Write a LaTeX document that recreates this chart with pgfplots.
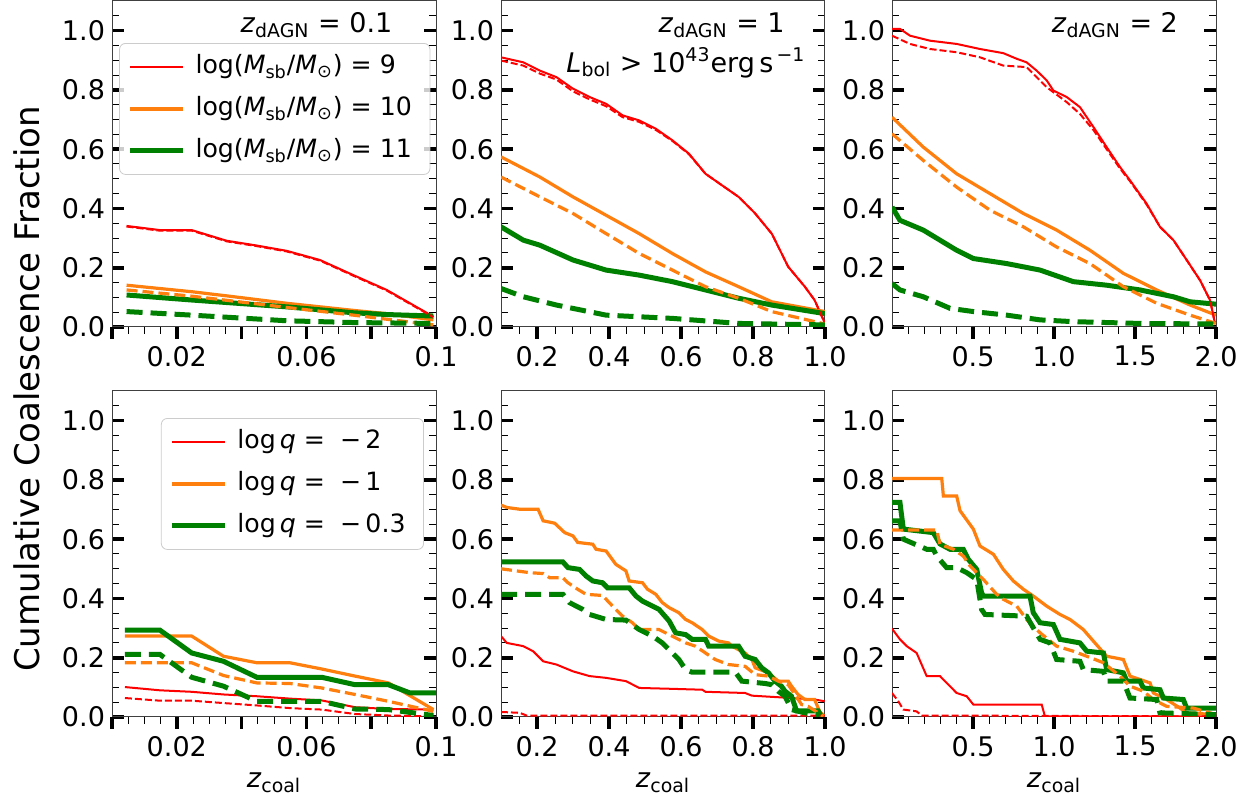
\documentclass[border=0pt]{standalone}
\usepackage{fontspec}
\setmainfont{DejaVu Sans}
\usepackage{pgfplots}
\pgfplotsset{compat=1.18}
\definecolor{mred}{HTML}{FF0000}
\definecolor{morange}{HTML}{FF7F0E}
\definecolor{mgreen}{HTML}{008000}
\newcommand{\fs}{\fontsize{13.5}{16}\selectfont}
\newcommand{\lfs}{\fontsize{12.6}{15}\selectfont}
\pgfplotsset{
  panel/.style={
    scale only axis, width=162pt, height=163pt, anchor=south west,
    ymin=0, ymax=1.1,
    ytick={0,0.2,0.4,0.6,0.8,1.0},
    yticklabels={0.0,0.2,0.4,0.6,0.8,1.0},
    minor ytick={0.05,0.1,0.15,0.25,0.3,0.35,0.45,0.5,0.55,0.65,0.7,0.75,0.85,0.9,0.95,1.05},
    xtick align=outside, ytick align=inside,
    xtick pos=bottom, ytick pos=both, yticklabel pos=left,
    major tick length=6pt, minor tick length=3.5pt,
    every major tick/.append style={line width=1.8pt, black},
    every minor tick/.append style={line width=0.5pt, black},
    axis line style={line width=0.5pt, black!75},
    tick label style={font=\fs},
    label style={font=\fs},
    xlabel style={at={(axis description cs:0.5,0)}, anchor=base, yshift=-35.5pt},
    legend cell align=left,
    legend image code/.code={\draw[##1] (0pt,0pt) -- (26.5pt,0pt);},
    legend style={draw=black!20, rounded corners=3pt, fill=white, fill opacity=0.8, text opacity=1,
      font=\lfs, inner xsep=4pt, inner ysep=5pt, row sep=7.5pt,
      nodes={text height=10pt, text depth=3.5pt, inner ysep=0pt, inner xsep=5pt}},
  },
  p1x/.style={xmin=0, xmax=0.1, xtick={0,0.02,0.04,0.06,0.08,0.1}, xticklabels={,0.02,,0.06,,0.1},
    minor xtick={0.005,0.01,0.015,0.025,0.03,0.035,0.045,0.05,0.055,0.065,0.07,0.075,0.085,0.09,0.095}},
  p2x/.style={xmin=0.1, xmax=1.0, xtick={0.2,0.4,0.6,0.8,1.0}, xticklabels={0.2,0.4,0.6,0.8,1.0},
    minor xtick={0.15,0.25,0.3,0.35,0.45,0.5,0.55,0.65,0.7,0.75,0.85,0.9,0.95}},
  p3x/.style={xmin=0, xmax=2.0, xtick={0.5,1.0,1.5,2.0}, xticklabels={0.5,1.0,1.5,2.0},
    minor xtick={0.1,0.2,0.3,0.4,0.6,0.7,0.8,0.9,1.1,1.2,1.3,1.4,1.6,1.7,1.8,1.9}},
  rs/.style={color=mred, line width=1pt},
  os/.style={color=morange, line width=1.6pt},
  gs/.style={color=mgreen, line width=2.5pt},
  rd/.style={color=mred, line width=1pt, dash pattern=on 3.5pt off 1.5pt},
  od/.style={color=morange, line width=1.6pt, dash pattern=on 5.5pt off 2.5pt},
  gd/.style={color=mgreen, line width=2.5pt, dash pattern=on 8pt off 4pt},
}
\begin{document}
\begin{tikzpicture}
\useasboundingbox (0,0) rectangle (627.5pt,398.5pt);
% ---------------- top left
\begin{axis}[panel, p1x, at={(56pt,235pt)},
  legend style={at={(axis description cs:0.022,0.871)}, anchor=north west}]
\addplot[rs] coordinates {(0.0045,0.341)(0.0148,0.327)(0.0246,0.327)(0.0354,0.291)(0.0446,0.275)(0.0539,0.257)(0.0642,0.226)(0.0745,0.175)(0.0848,0.125)(0.0992,0.035)};
\addlegendentry{log(\textit{M}\textsubscript{sb}/\textit{M}\textsubscript{⊙}) = 9}
\addplot[os] coordinates {(0.0045,0.141)(0.0246,0.119)(0.0354,0.105)(0.0539,0.080)(0.0745,0.056)(0.0848,0.045)(0.0992,0.024)};
\addlegendentry{log(\textit{M}\textsubscript{sb}/\textit{M}\textsubscript{⊙}) = 10}
\addplot[gs] coordinates {(0.0045,0.108)(0.0246,0.091)(0.0539,0.068)(0.0745,0.048)(0.0848,0.042)(0.0992,0.037)};
\addlegendentry{log(\textit{M}\textsubscript{sb}/\textit{M}\textsubscript{⊙}) = 11}
\addplot[rd, forget plot] coordinates {(0.0045,0.339)(0.0148,0.325)(0.0246,0.325)(0.0354,0.289)(0.0446,0.273)(0.0539,0.255)(0.0642,0.224)(0.0745,0.173)(0.0848,0.123)(0.0992,0.033)};
\addplot[od, forget plot] coordinates {(0.0045,0.125)(0.0246,0.104)(0.0539,0.066)(0.0745,0.040)(0.0992,0.007)};
\addplot[gd, forget plot] coordinates {(0.0045,0.052)(0.0246,0.040)(0.0539,0.021)(0.0745,0.015)(0.0992,0.012)};
\node[font=\fs, anchor=base] at (rel axis cs:0.631,0.902) {\textit{z}\textsubscript{dAGN} = 0.1};
\end{axis}
% ---------------- top middle
\begin{axis}[panel, p2x, at={(250.5pt,235pt)}]
\addplot[rs] coordinates {(0.1,0.910)(0.162,0.893)(0.208,0.865)(0.254,0.843)(0.30,0.804)(0.346,0.776)(0.392,0.753)(0.438,0.714)(0.484,0.697)(0.530,0.669)(0.576,0.630)(0.622,0.585)(0.668,0.517)(0.714,0.478)(0.760,0.439)(0.806,0.383)(0.852,0.315)(0.898,0.203)(0.944,0.136)(0.971,0.091)(1.0,0.012)};
\addplot[os] coordinates {(0.1,0.574)(0.208,0.506)(0.30,0.439)(0.392,0.377)(0.484,0.315)(0.576,0.248)(0.668,0.186)(0.760,0.136)(0.852,0.085)(1.0,0.052)};
\addplot[gs] coordinates {(0.1,0.338)(0.162,0.293)(0.208,0.276)(0.30,0.226)(0.392,0.192)(0.484,0.175)(0.576,0.153)(0.668,0.125)(0.760,0.097)(0.852,0.074)(1.0,0.045)};
\addplot[rd] coordinates {(0.1,0.899)(0.162,0.882)(0.208,0.855)(0.254,0.835)(0.30,0.795)(0.346,0.768)(0.392,0.745)(0.438,0.708)(0.484,0.692)(0.530,0.665)(0.576,0.628)(0.622,0.583)(0.668,0.517)(0.714,0.478)(0.760,0.439)(0.806,0.383)(0.852,0.315)(0.898,0.203)(0.944,0.136)(0.971,0.091)(1.0,0.012)};
\addplot[od] coordinates {(0.1,0.506)(0.208,0.439)(0.30,0.383)(0.392,0.315)(0.484,0.248)(0.576,0.192)(0.668,0.136)(0.760,0.097)(0.852,0.052)(1.0,0.010)};
\addplot[gd] coordinates {(0.1,0.130)(0.162,0.102)(0.254,0.074)(0.392,0.040)(0.576,0.029)(0.760,0.012)(1.0,0.007)};
\node[font=\fs, anchor=base] at (rel axis cs:0.681,0.902) {\textit{z}\textsubscript{dAGN} = 1};
\node[font=\fs, anchor=base] at (rel axis cs:0.571,0.782) {\textit{L}\textsubscript{bol} > 10\textsuperscript{43}erg\,s\textsuperscript{\,−1}};
\end{axis}
% ---------------- top right
\begin{axis}[panel, p3x, at={(446pt,235pt)}]
\addplot[rs] coordinates {(0,1.006)(0.049,1.006)(0.111,0.983)(0.235,0.966)(0.40,0.955)(0.543,0.938)(0.687,0.924)(0.770,0.905)(0.831,0.893)(0.893,0.865)(0.955,0.832)(0.996,0.798)(1.078,0.776)(1.160,0.742)(1.243,0.675)(1.325,0.607)(1.407,0.540)(1.469,0.495)(1.572,0.416)(1.654,0.338)(1.737,0.293)(1.819,0.226)(1.901,0.158)(1.963,0.091)(1.994,0.012)};
\addplot[os] coordinates {(0,0.708)(0.193,0.607)(0.399,0.517)(0.605,0.450)(0.811,0.383)(1.016,0.327)(1.222,0.259)(1.428,0.181)(1.634,0.125)(1.840,0.074)(2.0,0.040)};
\addplot[gs] coordinates {(0,0.405)(0.049,0.360)(0.193,0.327)(0.399,0.259)(0.502,0.231)(0.708,0.214)(0.914,0.192)(1.119,0.153)(1.325,0.141)(1.531,0.125)(1.737,0.102)(1.840,0.085)(2.0,0.077)};
\addplot[rd] coordinates {(0,0.983)(0.111,0.955)(0.235,0.938)(0.40,0.927)(0.543,0.910)(0.687,0.882)(0.831,0.877)(0.955,0.809)(1.078,0.759)(1.160,0.719)(1.243,0.665)(1.325,0.600)(1.407,0.535)(1.469,0.492)(1.572,0.413)(1.654,0.338)(1.737,0.293)(1.819,0.226)(1.901,0.158)(1.963,0.091)(1.994,0.012)};
\addplot[od] coordinates {(0,0.652)(0.193,0.562)(0.399,0.472)(0.605,0.394)(0.811,0.338)(1.016,0.270)(1.222,0.214)(1.428,0.136)(1.634,0.080)(1.840,0.040)(2.0,0.012)};
\addplot[gd] coordinates {(0,0.147)(0.049,0.125)(0.193,0.102)(0.358,0.063)(0.502,0.052)(0.708,0.040)(0.914,0.024)(1.119,0.018)(1.531,0.012)(2.0,0.010)};
\node[font=\fs, anchor=base] at (rel axis cs:0.688,0.902) {\textit{z}\textsubscript{dAGN} = 2};
\end{axis}
% ---------------- bottom left
\begin{axis}[panel, p1x, at={(56pt,40pt)}, xlabel={\textit{z}\textsubscript{coal}},
  legend style={at={(axis description cs:0.151,0.917)}, anchor=north west}]
\addplot[rs] coordinates {(0.0040,0.101)(0.0148,0.090)(0.0246,0.085)(0.0344,0.076)(0.0447,0.070)(0.0549,0.062)(0.0647,0.056)(0.075,0.033)(0.0853,0.027)(0.0992,0.025)};
\addlegendentry{log\,\textit{q} =\hspace{0.6em}−\,2}
\addplot[os] coordinates {(0.0040,0.273)(0.0246,0.273)(0.0344,0.205)(0.0447,0.183)(0.0549,0.183)(0.0647,0.162)(0.075,0.138)(0.0853,0.115)(0.0992,0.025)};
\addlegendentry{log\,\textit{q} =\hspace{0.6em}−\,1}
\addplot[gs] coordinates {(0.0040,0.293)(0.0148,0.293)(0.0246,0.216)(0.0344,0.188)(0.0447,0.134)(0.0549,0.134)(0.0647,0.134)(0.075,0.109)(0.0853,0.109)(0.092,0.081)(0.1,0.081)};
\addlegendentry{log\,\textit{q} =\hspace{0.6em}−\,0.3}
\addplot[rd, forget plot] coordinates {(0.0040,0.064)(0.0148,0.055)(0.0246,0.055)(0.0344,0.047)(0.0447,0.039)(0.0549,0.030)(0.0647,0.025)(0.075,0.010)(0.0853,0.005)(0.0992,0.002)};
\addplot[od, forget plot] coordinates {(0.0040,0.183)(0.0148,0.183)(0.0246,0.183)(0.0344,0.140)(0.0447,0.115)(0.0549,0.113)(0.0647,0.098)(0.075,0.076)(0.0853,0.053)(0.0992,0.019)};
\addplot[gd, forget plot] coordinates {(0.0040,0.211)(0.0148,0.211)(0.0246,0.134)(0.0344,0.104)(0.0447,0.053)(0.0549,0.053)(0.0647,0.053)(0.075,0.027)(0.0853,0.025)(0.0992,0.005)};
\end{axis}
% ---------------- bottom middle
\begin{axis}[panel, p2x, at={(250.5pt,40pt)}, xlabel={\textit{z}\textsubscript{coal}}]
\addplot[rs] coordinates {(0.1,0.273)(0.116,0.250)(0.162,0.239)(0.189,0.222)(0.217,0.188)(0.254,0.177)(0.300,0.154)(0.346,0.138)(0.392,0.132)(0.447,0.121)(0.484,0.098)(0.576,0.095)(0.659,0.092)(0.668,0.085)(0.778,0.081)(0.797,0.072)(0.907,0.064)(0.971,0.059)(0.999,0.053)};
\addplot[os] coordinates {(0.1,0.715)(0.116,0.707)(0.152,0.701)(0.203,0.701)(0.217,0.662)(0.249,0.654)(0.277,0.622)(0.30,0.611)(0.313,0.589)(0.355,0.583)(0.364,0.566)(0.392,0.560)(0.419,0.515)(0.447,0.493)(0.456,0.459)(0.493,0.453)(0.507,0.431)(0.530,0.414)(0.548,0.386)(0.567,0.369)(0.594,0.352)(0.613,0.329)(0.631,0.318)(0.659,0.295)(0.677,0.273)(0.705,0.256)(0.732,0.250)(0.741,0.239)(0.778,0.216)(0.797,0.194)(0.806,0.166)(0.843,0.149)(0.870,0.121)(0.898,0.121)(0.907,0.104)(0.925,0.076)(0.944,0.059)(0.971,0.059)(0.985,0.019)(0.999,0.002)};
\addplot[gs] coordinates {(0.1,0.523)(0.272,0.523)(0.286,0.504)(0.318,0.498)(0.336,0.476)(0.355,0.459)(0.382,0.453)(0.396,0.436)(0.456,0.436)(0.475,0.408)(0.493,0.391)(0.521,0.374)(0.539,0.363)(0.567,0.324)(0.585,0.284)(0.613,0.278)(0.631,0.262)(0.668,0.262)(0.677,0.239)(0.760,0.239)(0.778,0.205)(0.806,0.194)(0.824,0.166)(0.843,0.149)(0.861,0.121)(0.879,0.104)(0.889,0.087)(0.907,0.070)(0.921,0.021)(0.981,0.021)(0.99,0.002)};
\addplot[rd] coordinates {(0.1,0.017)(0.152,0.014)(0.171,0.005)(1.0,0.005)};
\addplot[od] coordinates {(0.1,0.50)(0.180,0.487)(0.217,0.484)(0.235,0.470)(0.272,0.470)(0.286,0.453)(0.313,0.431)(0.336,0.414)(0.382,0.410)(0.410,0.374)(0.438,0.340)(0.465,0.318)(0.484,0.295)(0.539,0.295)(0.567,0.278)(0.613,0.250)(0.640,0.239)(0.668,0.216)(0.695,0.194)(0.732,0.177)(0.778,0.171)(0.806,0.143)(0.843,0.138)(0.870,0.121)(0.898,0.109)(0.916,0.076)(0.935,0.042)(0.953,0.036)(0.981,0.014)(0.995,0.002)};
\addplot[gd] coordinates {(0.1,0.414)(0.272,0.414)(0.290,0.386)(0.327,0.363)(0.346,0.346)(0.392,0.329)(0.447,0.327)(0.484,0.295)(0.521,0.273)(0.548,0.250)(0.576,0.216)(0.594,0.194)(0.613,0.160)(0.631,0.151)(0.751,0.151)(0.769,0.121)(0.834,0.113)(0.852,0.109)(0.870,0.087)(0.889,0.070)(0.907,0.025)(0.944,0.014)(0.981,0.008)};
\end{axis}
% ---------------- bottom right
\begin{axis}[panel, p3x, at={(446pt,40pt)}, xlabel={\textit{z}\textsubscript{coal}}]
\addplot[rs] coordinates {(0,0.298)(0.049,0.262)(0.091,0.239)(0.152,0.216)(0.214,0.138)(0.296,0.138)(0.337,0.115)(0.399,0.081)(0.461,0.070)(0.502,0.042)(0.924,0.042)(0.944,0.002)(2.0,0.002)};
\addplot[os] coordinates {(0,0.805)(0.307,0.805)(0.317,0.746)(0.399,0.746)(0.420,0.696)(0.502,0.634)(0.543,0.577)(0.626,0.549)(0.687,0.498)(0.749,0.459)(0.811,0.431)(0.872,0.408)(0.955,0.374)(1.037,0.346)(1.099,0.329)(1.181,0.295)(1.243,0.256)(1.325,0.205)(1.428,0.194)(1.469,0.138)(1.593,0.115)(1.613,0.081)(1.695,0.059)(1.778,0.030)(1.819,0.014)(2.0,0.008)};
\addplot[gs] coordinates {(0,0.724)(0.049,0.724)(0.070,0.634)(0.255,0.622)(0.296,0.584)(0.358,0.566)(0.440,0.566)(0.471,0.532)(0.523,0.498)(0.553,0.419)(0.564,0.408)(0.852,0.408)(0.872,0.352)(0.914,0.318)(0.996,0.312)(1.037,0.262)(1.160,0.250)(1.202,0.222)(1.305,0.216)(1.325,0.160)(1.428,0.149)(1.449,0.121)(1.531,0.121)(1.551,0.098)(1.654,0.092)(1.675,0.064)(1.798,0.059)(1.819,0.030)(2.0,0.030)};
\addplot[rd] coordinates {(0,0.081)(0.039,0.053)(0.070,0.025)(0.152,0.019)(0.183,0.005)(2.0,0.002)};
\addplot[od] coordinates {(0,0.631)(0.276,0.631)(0.296,0.583)(0.379,0.566)(0.440,0.543)(0.481,0.510)(0.564,0.464)(0.646,0.414)(0.687,0.397)(0.770,0.374)(0.831,0.329)(0.914,0.284)(1.016,0.239)(1.119,0.222)(1.202,0.205)(1.305,0.183)(1.407,0.138)(1.469,0.104)(1.551,0.087)(1.613,0.059)(1.695,0.036)(1.860,0.030)(2.0,0.008)};
\addplot[gd] coordinates {(0,0.662)(0.049,0.662)(0.070,0.600)(0.214,0.566)(0.255,0.566)(0.276,0.543)(0.337,0.504)(0.399,0.504)(0.461,0.487)(0.523,0.464)(0.553,0.363)(0.574,0.346)(0.831,0.340)(0.872,0.301)(0.914,0.262)(0.975,0.250)(1.016,0.194)(1.160,0.188)(1.181,0.160)(1.305,0.154)(1.325,0.121)(1.428,0.121)(1.469,0.064)(1.634,0.059)(1.654,0.014)(2.0,0.008)};
\end{axis}
\node[font=\fontsize{17}{20}\selectfont, rotate=90, anchor=center] at (13.5pt,204pt) {Cumulative Coalescence Fraction};
\end{tikzpicture}
\end{document}
